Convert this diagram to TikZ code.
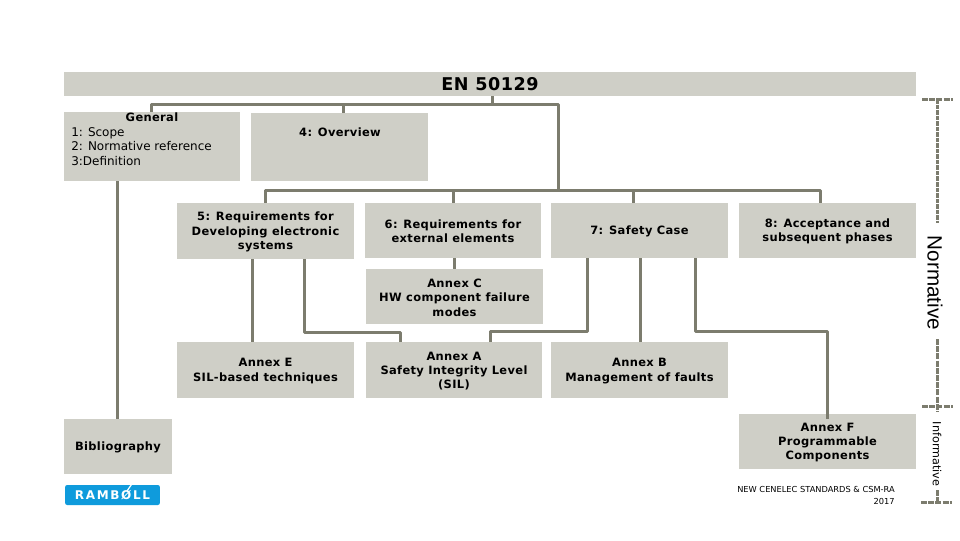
\documentclass[tikz,border=0pt]{standalone}
\usepackage{fontspec}
\setmainfont{DejaVu Sans}
\newfontfamily\arialfont{Liberation Sans}
\newfontfamily\boldfont[LetterSpace=3]{DejaVu Sans Bold}
\newfontfamily\regfont{DejaVu Sans}
\newfontfamily\logofont[LetterSpace=14]{DejaVu Sans Bold}
\definecolor{boxfill}{HTML}{CFCFC7}
\definecolor{linecol}{HTML}{7C7C6E}
\definecolor{logoblue}{HTML}{0F9BDC}
\tikzset{
  x=0.75pt,y=-0.75pt,
  box/.style={fill=boxfill,draw=none,inner sep=0pt},
  boxtext/.style={inner sep=0pt,align=center,text=black,font=\boldfont\fontsize{8.6}{10.75}\selectfont},
  plain/.style={inner sep=0pt,text=black},
  conn/.style={draw=linecol,line width=2.25pt,line join=round},
  bracket/.style={draw=linecol,line width=2.25pt,dash pattern=on 4.5pt off 0.9pt},
  thin dash/.style={draw=linecol,line width=2.25pt,dash pattern=on 3.4pt off 0.75pt},
}
\newcommand{\boxat}[6]{% name x1 y1 x2 y2 text
  \node[box,minimum width=#4*0.75pt-#2*0.75pt,minimum height=#5*0.75pt-#3*0.75pt,anchor=center] (#1) at ({(#2+#4)/2},{(#3+#5)/2}) {};
  \node[boxtext] (#1txt) at ({(#2+#4)/2},{(#3+#5)/2+1}) {#6};}
\begin{document}
\begin{tikzpicture}
\useasboundingbox (0,0) rectangle (960,540);
\fill[white] (0,0) rectangle (960,540);
\boxat{en}{64}{72}{916}{96}{}
\node[plain,font=\boldfont\fontsize{13.2}{15}\selectfont] (entxt) at (490,84.5) {EN 50129};
\boxat{gen}{64}{112}{240}{181}{}
\boxat{ov}{251}{113}{428}{181}{}
\boxat{s5}{177}{203}{354}{259}{5: Requirements for\\Developing electronic\\systems}
\boxat{s6}{365}{203}{541}{258}{6: Requirements for\\external elements}
\boxat{s7}{551}{203}{728}{258}{7: Safety Case}
\boxat{s8}{739}{203}{916}{258}{8: Acceptance and\\subsequent phases}
\boxat{anc}{366}{269}{543}{324}{Annex C\\HW component failure\\modes}
\boxat{ane}{177}{342}{354}{398}{Annex E\\SIL-based techniques}
\boxat{ana}{366}{342}{542}{398}{Annex A\\Safety Integrity Level\\(SIL)}
\boxat{anb}{551}{342}{728}{398}{Annex B\\Management of faults}
\boxat{bib}{64}{419}{172}{474}{Bibliography}
\node[boxtext] (gentitle) at (152,117.5) {General};
\node[plain,anchor=north west,align=left,font=\regfont\fontsize{9}{10.9}\selectfont] (gentxt) at (71,127) {1: Scope\\2: Normative reference\\3:Definition};
\node[boxtext] (ovtxt) at (340,132) {4: Overview};
% connectors
\coordinate (t1) at (492,104);
\coordinate (t2) at (558,190);
\draw[conn] (492,0 |- en.south) -- (t1);
\draw[conn] (151,0 |- gen.north) -- (151,104) -- (558,104) -- (t2);
\draw[conn] (343,104) -- (343,0 |- ov.north);
\draw[conn] (265,0 |- s5.north) -- (265,190) -- (820,190) -- (820,0 |- s8.north);
\draw[conn] (453,190) -- (453,0 |- s6.north);
\draw[conn] (633,190) -- (633,0 |- s7.north);
\draw[conn] (117,0 |- gen.south) -- (117,0 |- bib.north);
\draw[conn] (252,0 |- s5.south) -- (252,0 |- ane.north);
\draw[conn] (304,0 |- s5.south) -- (304,332) -- (400,332) -- (400,0 |- ana.north);
\draw[conn] (454,0 |- s6.south) -- (454,0 |- anc.north);
\draw[conn] (587,0 |- s7.south) -- (587,331) -- (490,331) -- (490,0 |- ana.north);
\draw[conn] (640,0 |- s7.south) -- (640,0 |- anb.north);
\boxat{anf}{739}{414}{916}{469}{Annex F\\Programmable\\Components}
\draw[conn] (695,0 |- s7.south) -- (695,331) -- (827,331) -- (827,418.5);
% brackets
\coordinate (b1l) at (922,99); \coordinate (b1r) at (953,99);
\coordinate (b1m) at (937,99); \coordinate (b1e) at (937,223);
\coordinate (b2l) at (922,406); \coordinate (b2r) at (953,406);
\coordinate (b2s) at (937,339); \coordinate (b2e) at (937,412);
\coordinate (b3s) at (937,490); \coordinate (b3m) at (937,502);
\coordinate (b3l) at (921,502); \coordinate (b3r) at (952,502);
\draw[bracket] (b1l) -- (b1r);
\draw[thin dash] (b1m) -- (b1e);
\draw[bracket] (b2l) -- (b2r);
\draw[bracket] (b2s) -- (b2e);
\draw[bracket] (b3s) -- (b3m);
\draw[bracket] (b3l) -- (b3r);
\node[plain,rotate=-90,font=\arialfont\fontsize{15.5}{17}\selectfont] (norm) at (935,283) {Normative};
\node[plain,rotate=-90,font=\regfont\fontsize{8.4}{10}\selectfont] (inf) at (937,454) {Informative};
% footer
\node[plain,anchor=north east,align=right,font=\regfont\fontsize{6.2}{9}\selectfont] (foot) at (895,486) {NEW CENELEC STANDARDS \& CSM-RA\\2017};
% logo
\node[fill=logoblue,rounded corners=1.5pt,minimum width=71pt,minimum height=15pt,inner sep=0pt,text=white,font=\logofont\fontsize{9}{10}\selectfont] (logo) at (112.5,495) {RAMBØLL};
\coordinate (sl1) at (127,491); \coordinate (sl2) at (131.5,484.5);
\draw[white,line width=0.9pt] (sl1) -- (sl2);
\end{tikzpicture}
\end{document}
